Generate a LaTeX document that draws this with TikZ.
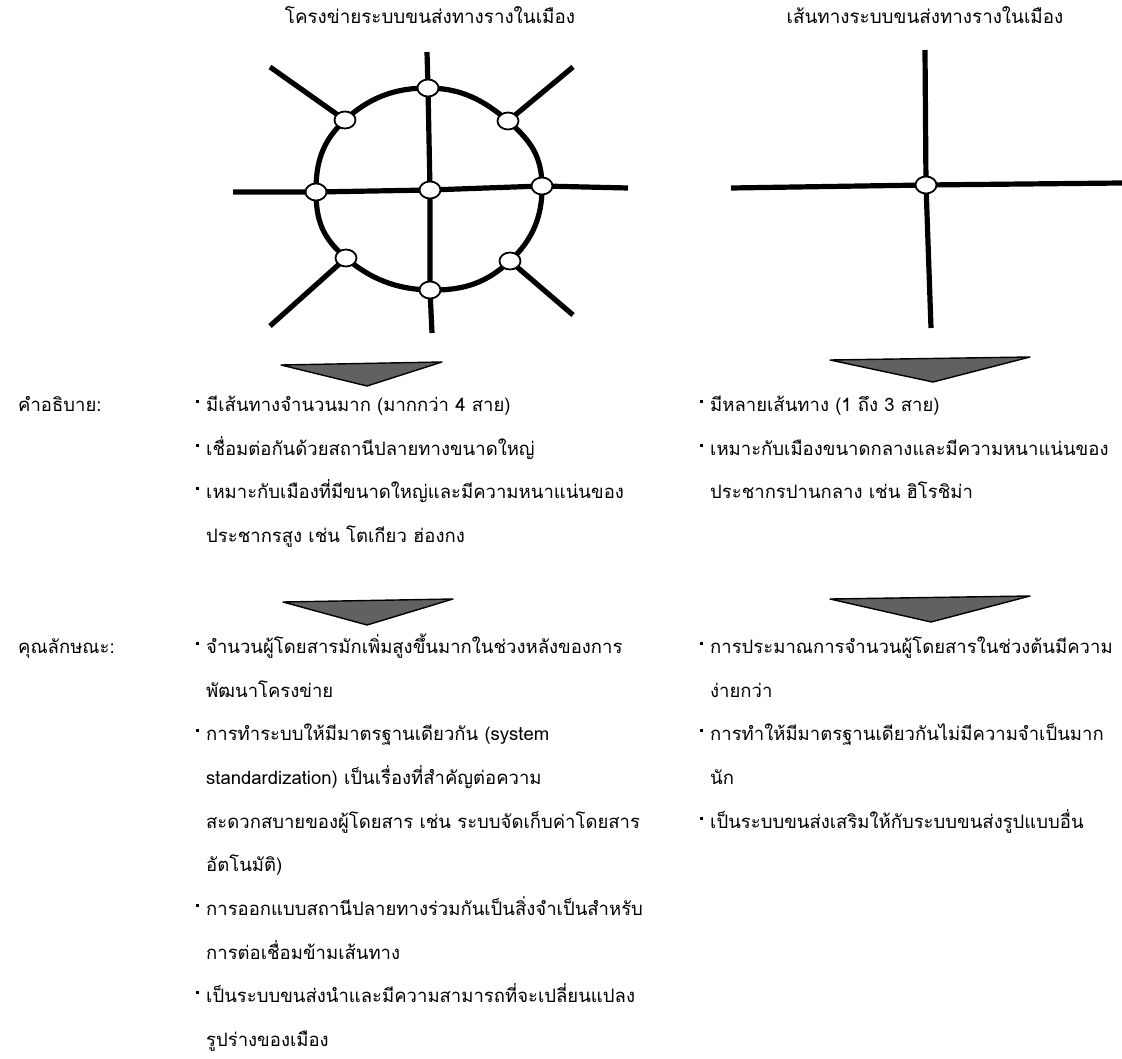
\documentclass[tikz,border=0pt]{standalone}
\usepackage{fontspec}
\newfontfamily\thai[Script=Thai]{Loma}
\usetikzlibrary{shapes.geometric}
\newcommand{\bul}{\llap{\raisebox{8.5pt}{\rule{2.8pt}{2.8pt}}\hspace{7pt}}}
\tikzset{
  rail/.style={line width=5.2pt},
  stn/.style={ellipse, draw, line width=1.8pt, fill=white, minimum width=21pt, minimum height=17pt, inner sep=0pt},
  wedge/.style={fill=black!62, draw=black, line width=1.4pt, line join=round},
  txt/.style={anchor=base west, inner sep=0pt, font=\thai\fontsize{18.5}{20}\selectfont},
  ttl/.style={anchor=base, inner sep=0pt, font=\thai\fontsize{18.8}{20}\selectfont},
}
\begin{document}
\begin{tikzpicture}[x=1pt, y=-1pt]
\fill[white] (0,0) rectangle (1122,1059);
\useasboundingbox (0,0) rectangle (1122,1059);

% titles
\node[ttl] (t1) at (430,24) {โครงข่ายระบบขนส่งทางรางในเมือง};
\node[ttl] (t2) at (925,24) {เส้นทางระบบขนส่งทางรางในเมือง};

% ---- network (left)
\coordinate (pT) at (428,88);
\coordinate (pUL) at (345,120);
\coordinate (pUR) at (508,121);
\coordinate (pL) at (316,192);
\coordinate (pC) at (430,190);
\coordinate (pR) at (542,186);
\coordinate (pLL) at (346,258);
\coordinate (pLR) at (510,261);
\coordinate (pB) at (430,290);
\coordinate (eN) at (427,52);
\coordinate (eS) at (432,333);
\coordinate (eW) at (233,192);
\coordinate (eE) at (628,188);
\coordinate (eNW) at (270,67);
\coordinate (eNE) at (573,67);
\coordinate (eSW) at (270,326);
\coordinate (eSE) at (573,315);

\draw[rail] plot[smooth cycle, tension=0.75] coordinates {(pT) (pUR) (pR) (pLR) (pB) (pLL) (pL) (pUL)};
\draw[rail] (eN) -- (pT) -- (pC) -- (pB) -- (eS);
\draw[rail] (eW) -- (pL) -- (pC) -- (pR) -- (eE);
\draw[rail] (eNW) -- (pUL);
\draw[rail] (eNE) -- (pUR);
\draw[rail] (eSW) -- (pLL);
\draw[rail] (eSE) -- (pLR);

\foreach \p in {T,UL,UR,L,C,R,LL,LR,B}
  \node[stn] (s\p) at (p\p) {};

% ---- single crossing (right)
\coordinate (qC) at (926,185);
\coordinate (qN) at (925,50);
\coordinate (qS) at (931,328);
\coordinate (qW) at (731,188);
\coordinate (qE) at (1122,183);
\draw[rail] (qN) -- (qC) -- (qS);
\draw[rail] (qW) -- (qC) -- (qE);
\node[stn] (x1) at (qC) {};

% ---- wedges
\draw[wedge] (281,365) -- (442,362) -- (367,386) -- cycle;
\draw[wedge] (283,602) -- (453,599) -- (367,625) -- cycle;
\draw[wedge] (830,360) -- (1030,357) -- (933,382) -- cycle;
\draw[wedge] (830,599) -- (1030,596) -- (931,622) -- cycle;

% ---- description block
\node[txt] (lab1) at (18,411) {คำอธิบาย:};
\node[txt] (a1) at (206,411) {\bul มีเส้นทางจำนวนมาก (มากกว่า 4 สาย)};
\node[txt] (a2) at (206,455) {\bul เชื่อมต่อกันด้วยสถานีปลายทางขนาดใหญ่};
\node[txt] (a3) at (206,498) {\bul เหมาะกับเมืองที่มีขนาดใหญ่และมีความหนาแน่นของ};
\node[txt] (a4) at (206,542) {ประชากรสูง เช่น โตเกียว ฮ่องกง};

\node[txt] (b1) at (710,411) {\bul มีหลายเส้นทาง (1 ถึง 3 สาย)};
\node[txt] (b2) at (710,455) {\bul เหมาะกับเมืองขนาดกลางและมีความหนาแน่นของ};
\node[txt] (b3) at (710,498) {ประชากรปานกลาง เช่น ฮิโรชิม่า};

% ---- characteristics block
\node[txt] (lab2) at (18,653) {คุณลักษณะ:};
\node[txt] (c1) at (206,653) {\bul จำนวนผู้โดยสารมักเพิ่มสูงขึ้นมากในช่วงหลังของการ};
\node[txt] (c2) at (206,697) {พัฒนาโครงข่าย};
\node[txt] (c3) at (206,740) {\bul การทำระบบให้มีมาตรฐานเดียวกัน (system};
\node[txt] (c4) at (206,784) {standardization) เป็นเรื่องที่สำคัญต่อความ};
\node[txt] (c5) at (206,828) {สะดวกสบายของผู้โดยสาร เช่น ระบบจัดเก็บค่าโดยสาร};
\node[txt] (c6) at (206,871) {อัตโนมัติ)};
\node[txt] (c7) at (206,915) {\bul การออกแบบสถานีปลายทางร่วมกันเป็นสิ่งจำเป็นสำหรับ};
\node[txt] (c8) at (206,959) {การต่อเชื่อมข้ามเส้นทาง};
\node[txt] (c9) at (206,1002) {\bul เป็นระบบขนส่งนำและมีความสามารถที่จะเปลี่ยนแปลง};
\node[txt] (c10) at (206,1046) {รูปร่างของเมือง};

\node[txt] (d1) at (710,653) {\bul การประมาณการจำนวนผู้โดยสารในช่วงต้นมีความ};
\node[txt] (d2) at (710,697) {ง่ายกว่า};
\node[txt] (d3) at (710,740) {\bul การทำให้มีมาตรฐานเดียวกันไม่มีความจำเป็นมาก};
\node[txt] (d4) at (710,784) {นัก};
\node[txt] (d5) at (710,828) {\bul เป็นระบบขนส่งเสริมให้กับระบบขนส่งรูปแบบอื่น};
\end{tikzpicture}
\end{document}
